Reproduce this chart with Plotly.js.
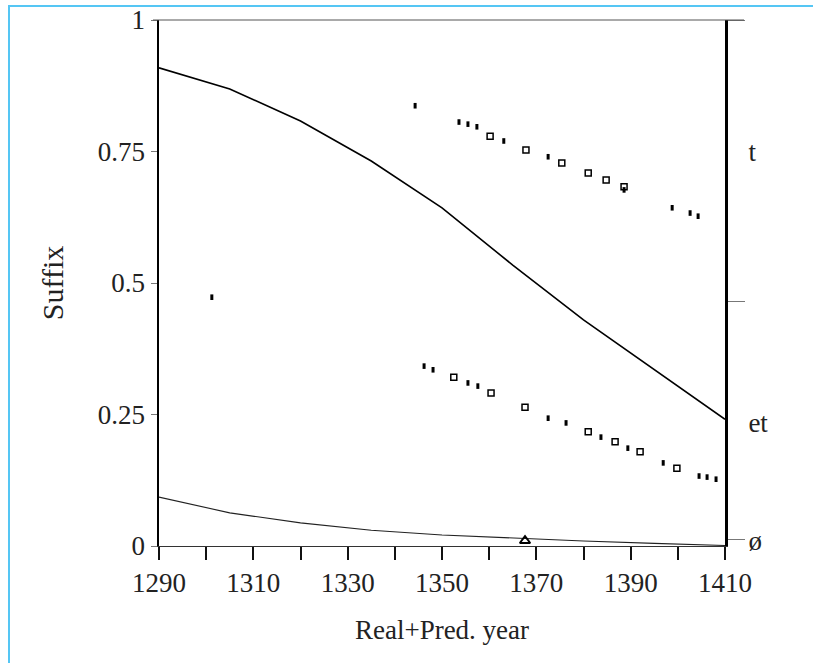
<!DOCTYPE html>
<html>
<head>
<meta charset="utf-8">
<script src="https://cdn.plot.ly/plotly-3.0.1.min.js"></script>
<style>
  html, body { margin: 0; padding: 0; background: #fff; }
  #wrap { position: relative; width: 813px; height: 663px; }
  #chart { width: 813px; height: 663px; }
  #frame { position: absolute; left: 8px; top: 5px; right: 0; bottom: 0;
           border-left: 2px solid #55c6f4; border-top: 2px solid #55c6f4; pointer-events: none; }
</style>
</head>
<body>
<div id="wrap"><div id="chart"></div><div id="frame"></div></div>
<script>
// Model curves
const curveYears = [1290, 1305, 1320, 1335, 1350, 1365, 1380, 1395, 1410];
const curveT     = [0.909, 0.869, 0.808, 0.732, 0.643, 0.534, 0.430, 0.335, 0.241];
const curveZero  = [0.093, 0.063, 0.044, 0.030, 0.021, 0.015, 0.0095, 0.005, 0.001];

// Observed points (filled dashes)
const filledYears = [1301.2, 1344.3, 1353.6, 1355.5, 1357.4, 1363.1, 1372.5, 1388.6, 1398.8, 1402.6, 1404.3,
                     1346.2, 1348.1, 1355.5, 1357.6, 1372.5, 1376.3, 1383.7, 1389.4, 1396.9, 1404.5, 1406.2, 1408.1];
const filledVals  = [0.473, 0.837, 0.806, 0.802, 0.797, 0.770, 0.740, 0.677, 0.643, 0.633, 0.627,
                     0.342, 0.335, 0.310, 0.304, 0.243, 0.234, 0.207, 0.186, 0.158, 0.133, 0.131, 0.127];

// Observed points (open rectangles)
const openYears = [1360.2, 1367.8, 1375.4, 1381.0, 1384.8, 1388.6,
                   1352.5, 1360.4, 1367.6, 1381.0, 1386.7, 1392.0, 1399.8];
const openVals  = [0.779, 0.753, 0.728, 0.709, 0.696, 0.683,
                   0.321, 0.291, 0.264, 0.217, 0.198, 0.179, 0.148];

// Triangle point
const triYears = [1367.6];
const triVals  = [0.010];

// Axis ticks
const xTickVals = [1290, 1300, 1310, 1320, 1330, 1340, 1350, 1360, 1370, 1380, 1390, 1400, 1410];
const xTickText = ['1290', '', '1310', '', '1330', '', '1350', '', '1370', '', '1390', '', '1410'];
const yTickVals = [0, 0.25, 0.5, 0.75, 1];
const yTickText = ['0', '0.25', '0.5', '0.75', '1'];
const rightTickVals = [1, 0.464, 0.013];
const rightLabelVals = [0.75, 0.234, 0.01];
const rightLabelText = ['t', 'et', 'ø'];

const FONT = 'Liberation Serif, Times New Roman, serif';

const traces = [
  { x: curveYears, y: curveT, mode: 'lines', line: { color: '#000', width: 1.6 }, hoverinfo: 'skip' },
  { x: curveYears, y: curveZero, mode: 'lines', line: { color: '#222', width: 1.1 }, hoverinfo: 'skip' },
  { x: filledYears, y: filledVals, mode: 'markers',
    marker: { symbol: 'line-ns', size: 4, line: { color: '#000', width: 3 } } },
  { x: openYears, y: openVals, mode: 'markers',
    marker: { symbol: 'square-open', size: 6, color: '#000', line: { color: '#000', width: 1.5 } } },
  { x: triYears, y: triVals, mode: 'markers',
    marker: { symbol: 'triangle-up-open', size: 9, color: '#000', line: { color: '#000', width: 2 } } },
  // invisible traces to activate right axes
  { x: [1290], y: [0], yaxis: 'y2', mode: 'markers', marker: { opacity: 0 }, hoverinfo: 'skip' },
  { x: [1290], y: [0], yaxis: 'y3', mode: 'markers', marker: { opacity: 0 }, hoverinfo: 'skip' }
];

const layout = {
  width: 813, height: 663,
  margin: { l: 159, r: 88, t: 20, b: 117 },
  paper_bgcolor: '#fff', plot_bgcolor: '#fff',
  showlegend: false,
  font: { family: FONT, color: '#222', size: 27 },
  xaxis: {
    range: [1290, 1410], tickvals: xTickVals, ticktext: xTickText,
    ticks: 'outside', ticklen: 13, tickwidth: 2, tickcolor: '#111',
    showline: true, linecolor: '#333', linewidth: 1,
    showgrid: false, zeroline: false,
    tickfont: { family: FONT, size: 27, color: '#222' },
    title: { text: 'Real+Pred. year', font: { family: FONT, size: 27, color: '#222' }, standoff: 22 }
  },
  yaxis: {
    range: [0, 1], tickvals: yTickVals, ticktext: yTickText,
    ticks: 'outside', ticklen: 6, tickwidth: 1, tickcolor: '#777',
    showline: true, linecolor: '#000', linewidth: 2.5,
    showgrid: false, zeroline: false,
    tickfont: { family: FONT, size: 27, color: '#222' },
    title: { text: 'Suffix', font: { family: FONT, size: 30, color: '#222' }, standoff: 26 }
  },
  yaxis2: {
    overlaying: 'y', side: 'right', range: [0, 1],
    tickvals: rightTickVals, ticktext: ['', '', ''],
    ticks: 'outside', ticklen: 17, tickwidth: 1, tickcolor: '#777',
    showline: true, linecolor: '#000', linewidth: 2.5,
    showgrid: false, zeroline: false
  },
  yaxis3: {
    overlaying: 'y', side: 'right', range: [0, 1],
    tickvals: rightLabelVals, ticktext: rightLabelText,
    ticks: 'outside', ticklen: 17, tickcolor: 'rgba(0,0,0,0)',
    showline: false, showgrid: false, zeroline: false,
    tickfont: { family: FONT, size: 27, color: '#222' }
  },
  shapes: [
    { type: 'line', xref: 'paper', yref: 'paper', x0: -0.0106, x1: 1.0336, y0: 1, y1: 1,
      line: { color: '#555', width: 1 } }
  ]
};

Plotly.newPlot('chart', traces, layout, { displayModeBar: false, staticPlot: true });
</script>
</body>
</html>
